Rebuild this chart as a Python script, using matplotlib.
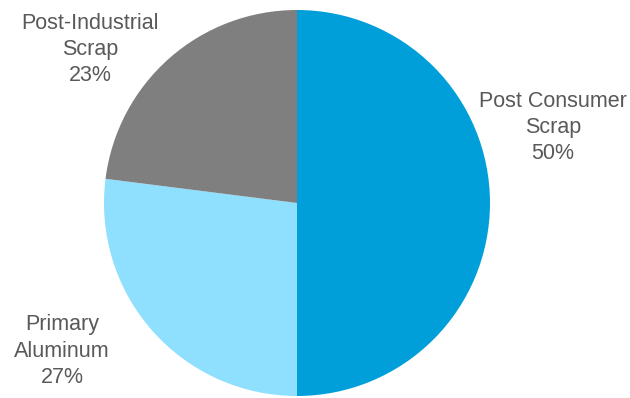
import matplotlib
matplotlib.use("Agg")
import matplotlib.pyplot as plt

categories = ["Post Consumer\nScrap", "Primary\nAluminum", "Post-Industrial\nScrap"]
shares = [50, 27, 23]
colors = ["#009FDA", "#8FDFFF", "#7F7F7F"]
# label centres in pie-radius units
label_pos = [(1.326, 0.392), (-1.218, -0.767), (-1.073, 0.795)]

plt.rcParams["font.family"] = ["Liberation Sans", "DejaVu Sans"]

fig = plt.figure(figsize=(6.30, 3.98), dpi=100)
W, H = 630, 398
cx, cy, r = 297, 203, 193
ax = fig.add_axes([(cx - r) / W, (H - cy - r) / H, 2 * r / W, 2 * r / H])
ax.pie(shares, colors=colors, startangle=90, counterclock=False, radius=1,
       wedgeprops=dict(linewidth=0))
ax.set_xlim(-1, 1)
ax.set_ylim(-1, 1)
ax.set_aspect("equal")
ax.axis("off")

for name, val, (x, y) in zip(categories, shares, label_pos):
    ax.text(x, y, f"{name}\n{val}%", ha="center", va="center", fontsize=15.5,
            color="#595959", linespacing=1.33, clip_on=False)

fig.savefig("out.png", dpi=100)
